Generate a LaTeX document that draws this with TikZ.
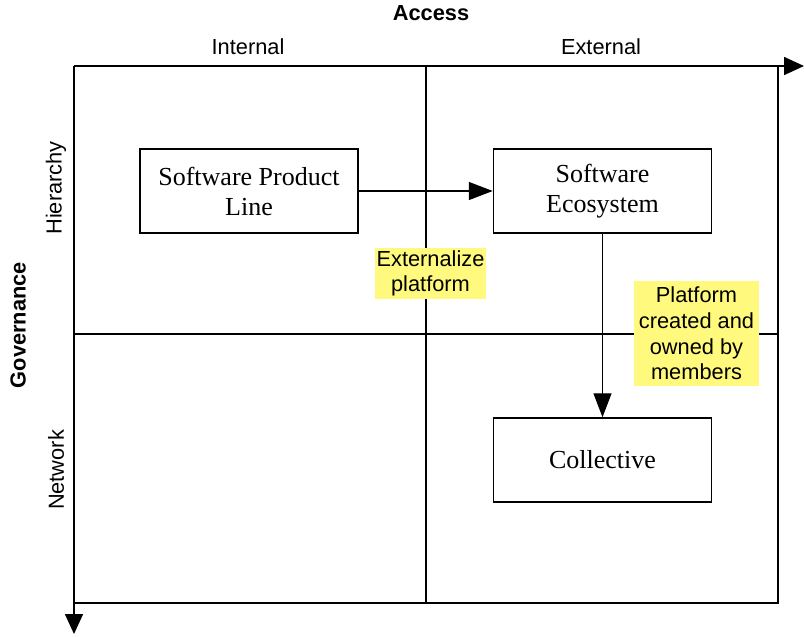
\documentclass[tikz,border=0pt]{standalone}
\usepackage{fontspec}
\setmainfont{Liberation Serif}
\setsansfont{Liberation Sans}
\usetikzlibrary{arrows.meta}
\definecolor{notecolor}{RGB}{255,250,125}
\tikzset{
  axis/.style={line width=1.7pt},
  grid/.style={line width=1.5pt},
  axistip/.style={-{Triangle[length=20pt,width=18pt]}},
  flow/.style={line width=1.4pt,-{Triangle[length=24pt,width=18pt]}},
  concept/.style={draw,line width=1.5pt,minimum width=218pt,minimum height=84pt,
    inner sep=0pt,align=center,font=\fontsize{26}{30}\selectfont},
  note/.style={fill=notecolor,inner sep=0pt,align=center,
    font=\sffamily\fontsize{21.8}{25.7}\selectfont},
  lbl/.style={font=\sffamily\fontsize{21.8}{25.7}\selectfont},
  head/.style={font=\sffamily\bfseries\fontsize{21.8}{25.7}\selectfont},
}
\begin{document}
\begin{tikzpicture}[x=1pt,y=-1pt]
\useasboundingbox (0,0) rectangle (804,637);
% frame corners and quadrant dividers
\coordinate (o) at (74,66);
\coordinate (xend) at (804,66);
\coordinate (yend) at (74,634);
\draw[grid] (74,603) -- (778,603) -- (778,66);
\draw[grid] (426,66) -- (426,603);
\draw[grid] (74,334) -- (778,334);
\draw[axis,axistip] (o) -- (xend);
\draw[axis,axistip] (o) -- (yend);

% axis titles
\node[head] (access) at (431,13) {Access};
\node[lbl] (internal) at (248,47) {Internal};
\node[lbl] (external) at (601,47) {External};
\node[head,rotate=90] (gov) at (18,325) {Governance};
\node[lbl,rotate=90] (hier) at (56,188) {Hierarchy};
\node[lbl,rotate=90] (net) at (56,470) {Network};

% concepts
\node[concept] (spl) at (249,191) {Software Product\\Line};
\node[concept] (se) at (602.5,191) {Software\\Ecosystem};
\node[concept] (col) at (602.5,460) {Collective};

% transitions
\draw[flow] (spl) -- (se);
\draw[flow] (se) -- (col);

% annotations
\node[note,minimum width=111pt,minimum height=51pt] (ext) at (430.5,273.5) {Externalize\\platform};
\node[note,minimum width=125pt,minimum height=105pt] (own) at (696.5,333.5) {Platform\\created and\\owned by\\members};
\end{tikzpicture}
\end{document}
